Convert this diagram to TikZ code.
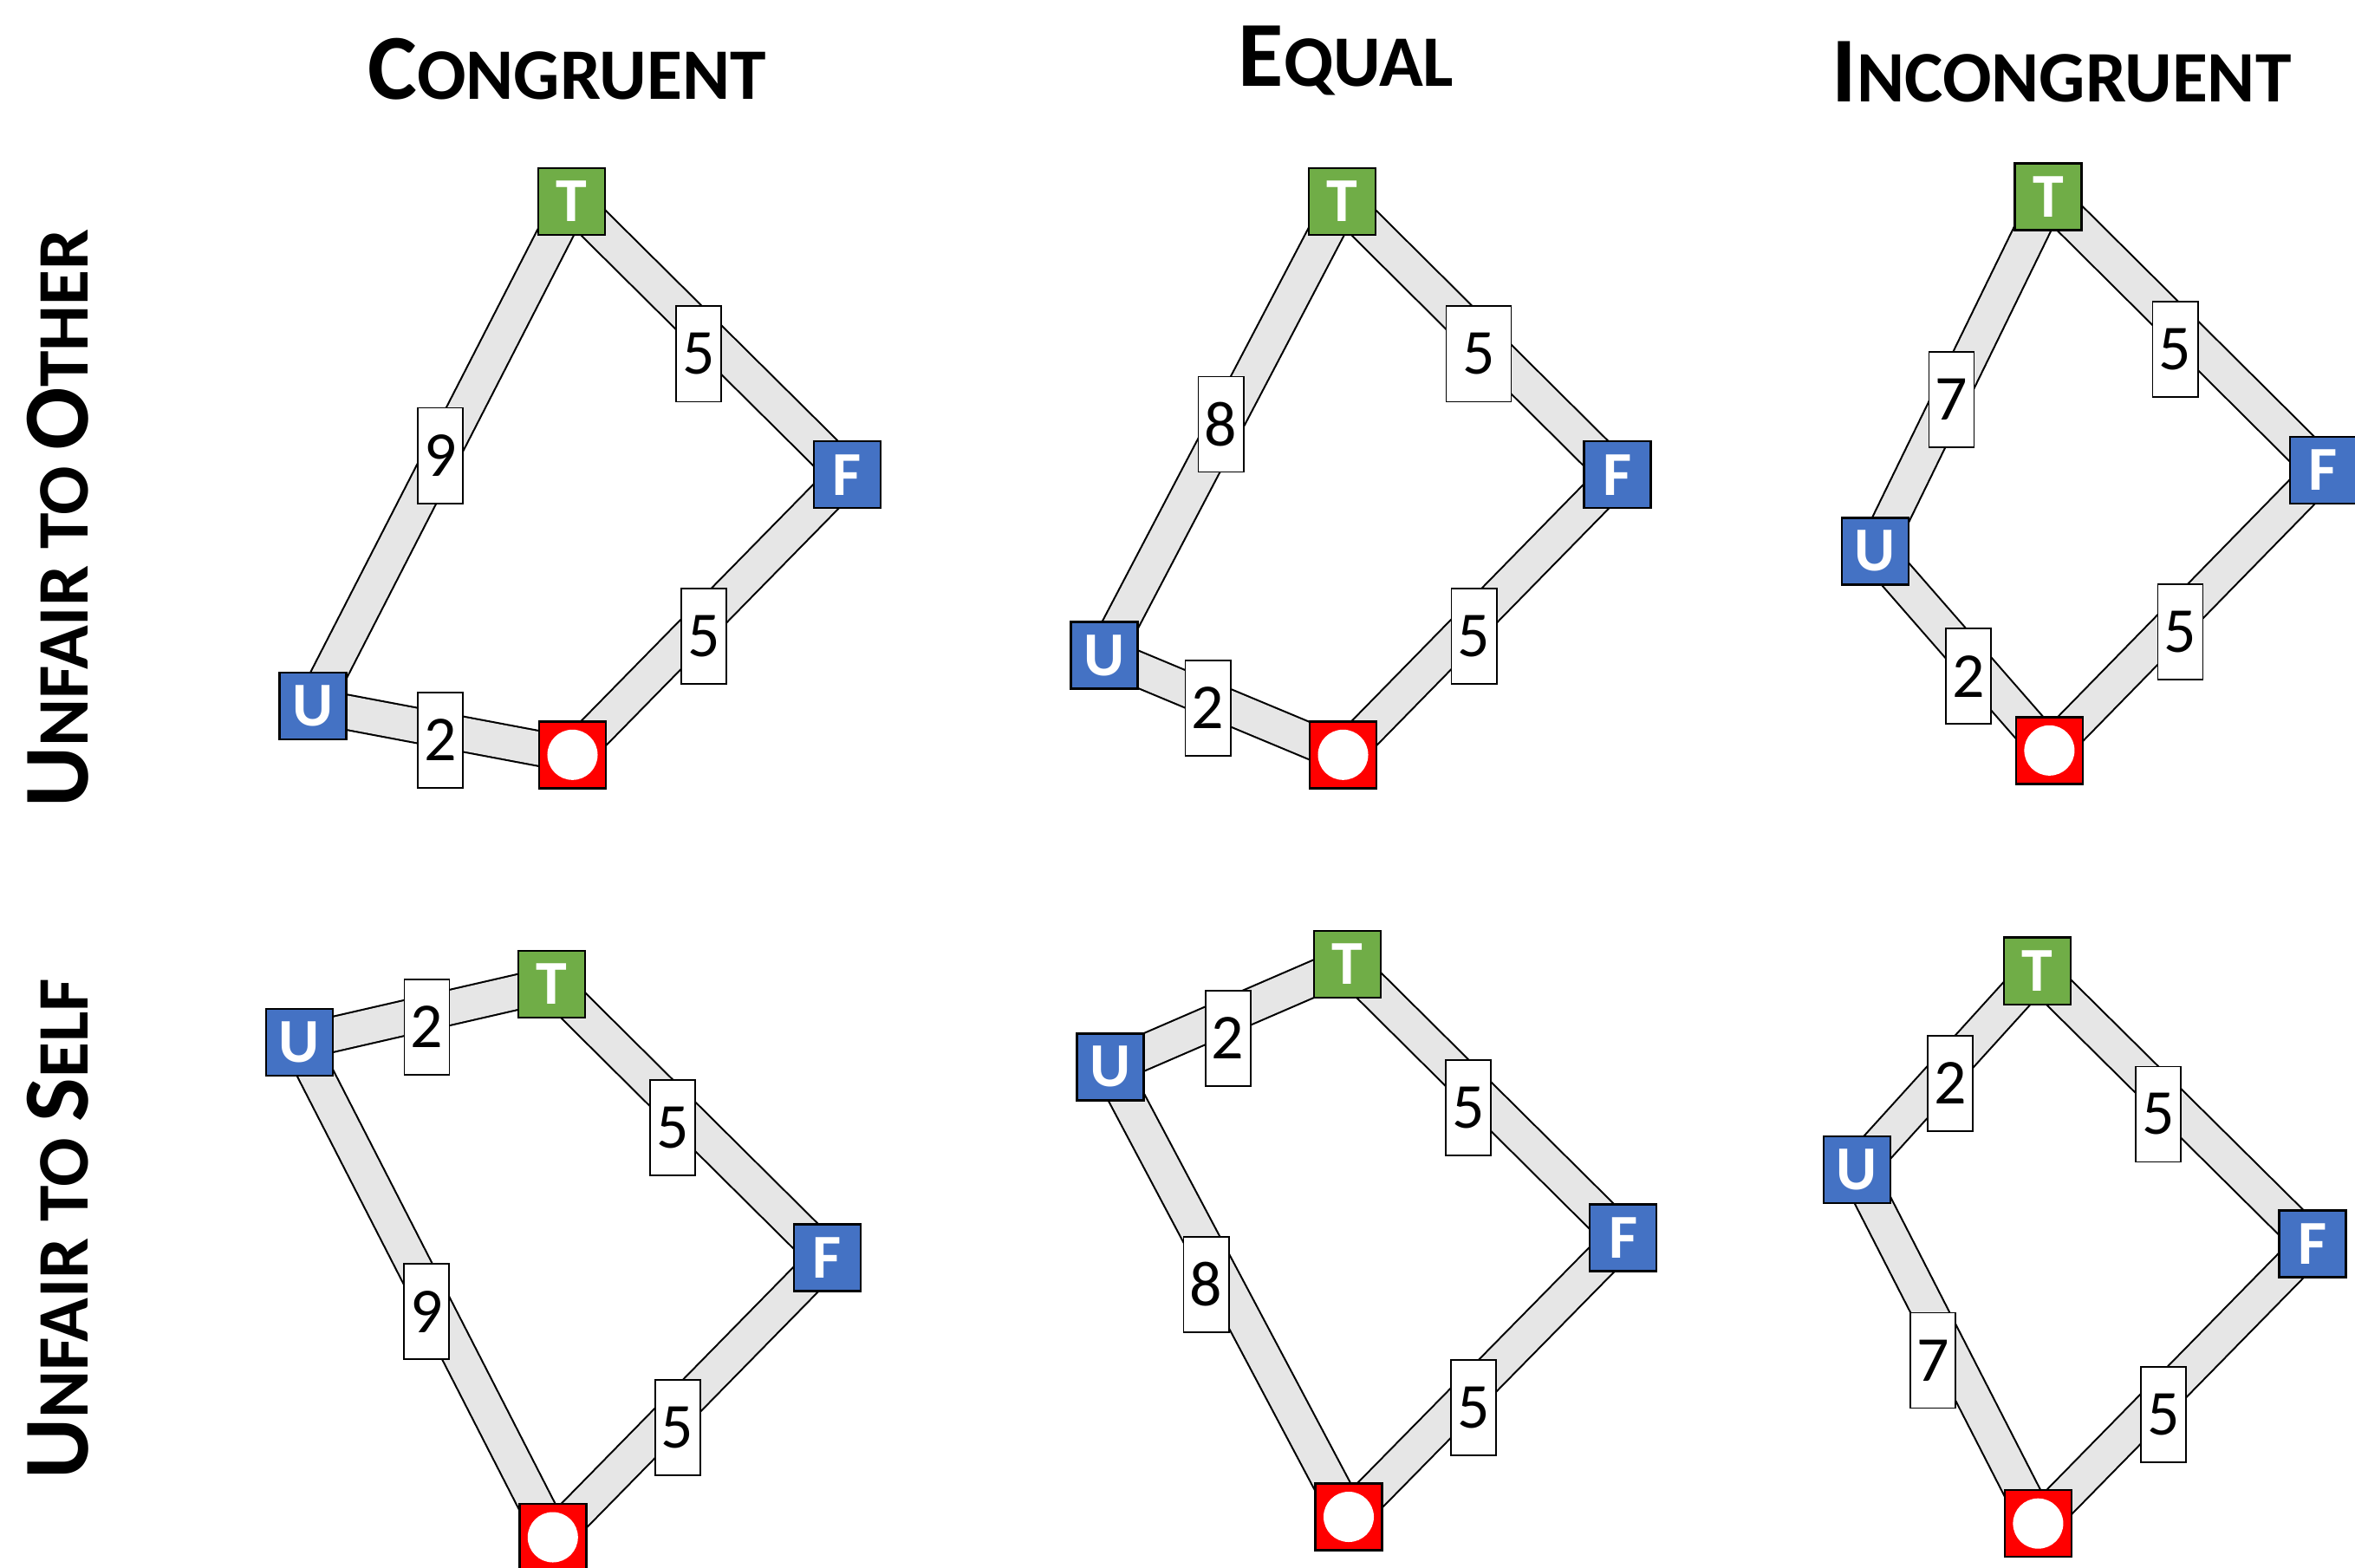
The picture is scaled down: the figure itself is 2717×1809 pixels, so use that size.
\documentclass[tikz,border=0pt]{standalone}
\usepackage{fontspec}
\setmainfont{Carlito}
\usetikzlibrary{backgrounds}
\definecolor{tgreen}{HTML}{70AD47}
\definecolor{ublue}{HTML}{4472C4}
\definecolor{ored}{HTML}{FF0000}
\definecolor{bandgray}{HTML}{E6E6E6}
\newcommand\capA[1]{{\fontsize{30.5}{36}\selectfont #1}}
\newcommand\capB[1]{{\fontsize{23.8}{28}\selectfont #1}}
\newcommand\panel[5]{%
  \node[tbox] (#1T) at (#2) {T};
  \node[bbox] (#1F) at (#3) {F};
  \node[bbox] (#1U) at (#4) {U};
  \node[obox] (#1O) at (#5) {};
  \begin{pgfonlayer}{background}
    \draw[band] (#1U.center) -- (#1T.center);
    \draw[band] (#1T.center) -- (#1F.center);
    \draw[band] (#1F.center) -- (#1O.center);
    \draw[band] (#1O.center) -- (#1U.center);
  \end{pgfonlayer}}
\begin{document}
\begin{tikzpicture}[x=0.01cm,y=-0.01cm,
  nbox/.style={draw=black, line width=0.7pt, minimum width=0.77cm, minimum height=0.77cm,
    inner sep=0pt, font=\fontsize{20.5}{24}\selectfont\bfseries, text=white},
  tbox/.style={nbox, fill=tgreen},
  bbox/.style={nbox, fill=ublue},
  obox/.style={nbox, fill=ored, path picture={\fill[white] (path picture bounding box.center) circle (0.29cm);}},
  lab/.style={draw=black, line width=0.5pt, fill=white, minimum width=0.52cm, minimum height=1.1cm,
    inner sep=0pt, font=\fontsize{21}{25}\selectfont},
  band/.style={draw=black, line width=0.6pt, double=bandgray, double distance=0.38cm},
  title/.style={anchor=base, font=\bfseries, inner sep=0pt}]
\useasboundingbox (0,0) rectangle (2717,1809);

% column titles
\node[title] (c1) at (654,114) {\capA{C}\capB{ONGRUENT}};
\node[title] (c2) at (1553,100) {\capA{E}\capB{QUAL}};
\node[title] (c3) at (2378.5,117) {\capA{I}\capB{NCONGRUENT}};
% row titles
\node[title, rotate=90] (r1) at (101,598) {\capA{U}\capB{NFAIR TO }\capA{O}\capB{THER}};
\node[title, rotate=90] (r2) at (101,1418) {\capA{U}\capB{NFAIR TO }\capA{S}\capB{ELF}};

% panel 1
\panel{a}{659.5,232.3}{977.5,547.7}{361,814.3}{660.5,870.8}
\node[lab] (aUT) at (508,525.6) {9};
\node[lab] (aTF) at (806,408.4) {5};
\node[lab] (aFO) at (812,734) {5};
\node[lab] (aOU) at (508,854) {2};
% panel 2
\panel{b}{1548.5,232.3}{1866,547.7}{1274,755.9}{1549.5,870.8}
\node[lab] (bUT) at (1408.6,489.5) {8};
\node[lab, minimum width=0.75cm] (bTF) at (1706,408.4) {5};
\node[lab] (bFO) at (1700.6,734) {5};
\node[lab] (bOU) at (1393.6,817) {2};
% panel 3
\panel{c}{2363,227.1}{2680.5,542.5}{2163.5,635.8}{2364.4,865.8}
\node[lab] (cUT) at (2251.4,461) {7};
\node[lab] (cTF) at (2509.6,403) {5};
\node[lab] (cFO) at (2515.5,729) {5};
\node[lab] (cOU) at (2271,780.3) {2};
% panel 4
\panel{d}{636.6,1135.4}{954.4,1450.8}{345.3,1202.3}{637.8,1773.5}
\node[lab] (dUT) at (492.4,1185) {2};
\node[lab] (dTF) at (775.8,1301) {5};
\node[lab] (dFO) at (781.7,1647) {5};
\node[lab] (dOU) at (491.9,1513.3) {9};
% panel 5
\panel{e}{1554.7,1112.3}{1872.7,1428}{1280.8,1230.8}{1556,1750}
\node[lab] (eUT) at (1416.7,1197.7) {2};
\node[lab] (eTF) at (1694,1277.9) {5};
\node[lab] (eFO) at (1700,1624) {5};
\node[lab] (eOU) at (1391.6,1482) {8};
% panel 6
\panel{f}{2350.4,1120.2}{2668,1434.8}{2142.4,1349.5}{2351.4,1757.7}
\node[lab] (fUT) at (2250,1250) {2};
\node[lab] (fTF) at (2489.7,1285.5) {5};
\node[lab] (fFO) at (2495.8,1631.7) {5};
\node[lab] (fOU) at (2230.3,1569.4) {7};
\end{tikzpicture}
\end{document}
